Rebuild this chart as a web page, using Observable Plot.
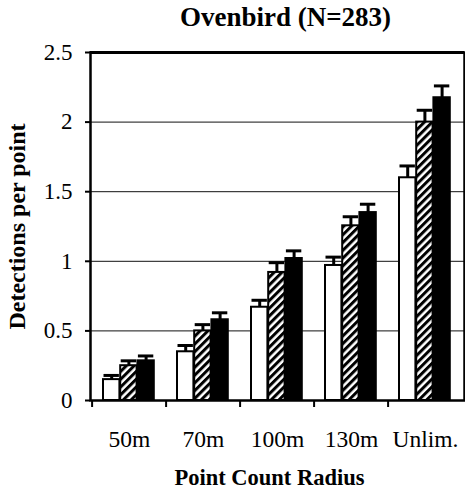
<!DOCTYPE html>
<html><head><meta charset="utf-8">
<script src="https://cdn.jsdelivr.net/npm/d3@7"></script>
<script src="https://cdn.jsdelivr.net/npm/@observablehq/plot@0.6"></script>
<style>body{margin:0;background:#fff} svg{display:block}</style>
</head><body><div id="chart"></div>
<script>
// ---- data ----
const radii = ["50m", "70m", "100m", "130m", "Unlim."];
const series = ["open", "hatched", "solid"];
const openMeans    = [0.15, 0.35, 0.67, 0.97, 1.60];
const openErr      = [0.03, 0.045, 0.05, 0.06, 0.085];
const hatchedMeans = [0.25, 0.50, 0.92, 1.255, 2.00];
const hatchedErr   = [0.035, 0.045, 0.07, 0.065, 0.085];
const solidMeans   = [0.285, 0.58, 1.02, 1.35, 2.175];
const solidErr     = [0.035, 0.05, 0.055, 0.06, 0.085];
const yTicks = [0, 0.5, 1, 1.5, 2, 2.5];
const yTickLabels = ["0", "0.5", "1", "1.5", "2", "2.5"];
const gridValues = [0.5, 1, 1.5, 2];
const titleText = "Ovenbird (N=283)";
const xTitle = "Point Count Radius";
const yTitle = "Detections per point";

const meansBySeries = [openMeans, hatchedMeans, solidMeans];
const errBySeries = [openErr, hatchedErr, solidErr];
const rows = radii.flatMap((r, i) => series.map((s, j) => ({
  radius: r, series: s, value: meansBySeries[j][i], err: errBySeries[j][i]
})));

// ---- layout ----
const W = 465, H = 490, mL = 90, mR = 1, mT = 52, mB = 90;
const bw = (W - mL - mR) / radii.length;
const off = 11, barW = 17.2;
const inset = (i, extra = 0) => ({insetLeft: off + i * barW + extra, insetRight: bw - off - (i + 1) * barW + extra});
const center = i => off + (i + 0.5) * barW - bw / 2;
const fills = ["white", "url(#hatch)", "black"];

const marks = [
  Plot.ruleY(gridValues, {stroke: "#111", strokeWidth: 1})
];
series.forEach((s, i) => {
  const data = rows.filter(d => d.series === s);
  marks.push(Plot.ruleX(data, {x: "radius", y1: "value", y2: d => d.value + d.err, dx: center(i), stroke: "black", strokeWidth: 3}));
  marks.push(Plot.tickY(data, {x: "radius", y: d => d.value + d.err, stroke: "black", strokeWidth: 3, ...inset(i, 0.5)}));
  marks.push(Plot.barY(data, {x: "radius", y: "value", fill: fills[i], stroke: "black", strokeWidth: 2, ...inset(i)}));
});
marks.push(
  Plot.frame({stroke: "black", strokeWidth: 2.5}),
  Plot.ruleY([2.5], {stroke: "black", strokeWidth: 3}),
  Plot.axisY({ticks: yTicks, tickFormat: d => yTickLabels[yTicks.indexOf(d)], tickSize: 5, tickPadding: 13, fontSize: 23, strokeWidth: 2, label: null}),
  Plot.axisX({tickSize: 0, tickPadding: 30, fontSize: 23.5, label: null}),
  Plot.axisX({tickSize: 7, tickFormat: () => "", dx: -bw / 2, strokeWidth: 2, label: null}),
  Plot.text([titleText], {text: d => d, frameAnchor: "top", dy: -35, dx: 8, fontSize: 27, fontWeight: "bold", textAnchor: "middle", lineAnchor: "middle"}),
  Plot.text([xTitle], {text: d => d, frameAnchor: "bottom", dy: 77, dx: -8, fontSize: 22.5, fontWeight: "bold", textAnchor: "middle", lineAnchor: "middle"}),
  Plot.text([yTitle], {text: d => d, frameAnchor: "left", dx: -73, rotate: -90, fontSize: 24, fontWeight: "bold", textAnchor: "middle", lineAnchor: "middle"})
);

const svg = Plot.plot({
  width: W, height: H,
  marginLeft: mL, marginRight: mR, marginTop: mT, marginBottom: mB,
  style: {fontFamily: "'Liberation Serif', 'Times New Roman', serif", fontSize: "23px", background: "white", color: "black", overflow: "visible"},
  x: {type: "band", domain: radii, padding: 0},
  y: {domain: [0, 2.5]},
  marks
});

const defs = d3.select(svg).insert("defs", ":first-child");
const p = defs.append("pattern").attr("id", "hatch").attr("patternUnits", "userSpaceOnUse")
  .attr("width", 5.5).attr("height", 5.5).attr("patternTransform", "rotate(45)");
p.append("rect").attr("width", 5.5).attr("height", 5.5).attr("fill", "white");
p.append("rect").attr("x", 0).attr("y", 0).attr("width", 3).attr("height", 5.5).attr("fill", "black");

document.getElementById("chart").appendChild(svg);
</script>
</body></html>
